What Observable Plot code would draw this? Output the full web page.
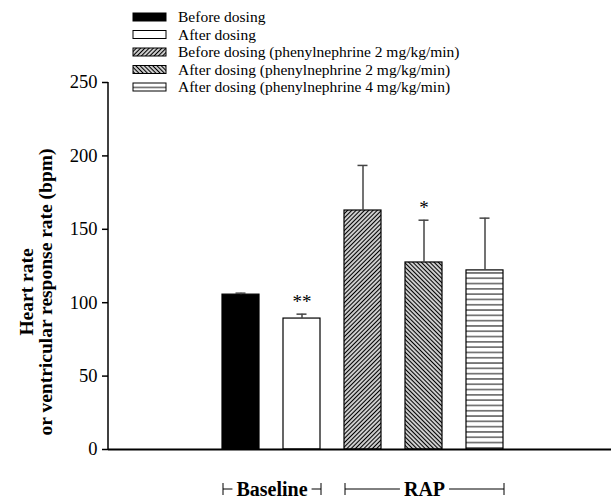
<!DOCTYPE html>
<html><head><meta charset="utf-8">
<script src="https://cdn.jsdelivr.net/npm/d3@7"></script>
<script src="https://cdn.jsdelivr.net/npm/@observablehq/plot@0.6"></script>
<style>body{margin:0;background:#fff}</style>
</head><body><div id="chart"></div>
<script>
const categories = [
  "Before dosing",
  "After dosing",
  "Before dosing (phenylnephrine 2 mg/kg/min)",
  "After dosing (phenylnephrine 2 mg/kg/min)",
  "After dosing (phenylnephrine 4 mg/kg/min)"
];
const groups = ["Baseline", "Baseline", "RAP", "RAP", "RAP"];
const means = [105.5, 89.2, 162.8, 127.4, 122];
const errors = [1, 3, 30.7, 28.8, 35.6];
const stars = ["", "**", "", "*", ""];
const fills = ["#000", "#fff", "url(#hatchUp)", "url(#hatchDown)", "url(#hatchHoriz)"];
const yTicks = [0, 50, 100, 150, 200, 250];
const yTitle = ["Heart rate", "or ventricular response rate (bpm)"];

const data = categories.map((c, i) => ({cat: c, group: groups[i], mean: means[i], err: errors[i], star: stars[i], fill: fills[i]}));

const FONT = "'Liberation Serif', 'Times New Roman', serif";

const plot = Plot.plot({
  width: 611, height: 499,
  marginTop: 82, marginBottom: 50, marginLeft: 108, marginRight: 0,
  style: {fontFamily: FONT, fontSize: "18.5px", color: "#000", background: "#fff", overflow: "visible"},
  x: {type: "band", domain: categories, range: [210, 515], paddingInner: 0.39, paddingOuter: 0.195, axis: null},
  y: {domain: [0, 250], axis: null},
  color: {type: "identity"},
  marks: [
    Plot.axisY({ticks: yTicks, tickSize: 6, tickPadding: 5, strokeWidth: 1.5, label: null, fontSize: 18.5}),
    Plot.barY(data, {x: "cat", y: "mean", fill: "fill", stroke: "#000", strokeWidth: 1.2}),
    Plot.ruleX(data, {x: "cat", y1: "mean", y2: d => d.mean + d.err, stroke: "#444", strokeWidth: 1.5}),
    Plot.tickY(data, {x: "cat", y: d => d.mean + d.err, stroke: "#444", strokeWidth: 1.5, insetLeft: 13.5, insetRight: 13.5}),
    Plot.text(data, {x: "cat", y: d => d.mean + d.err, text: "star", dy: -12, fontSize: 19}),
    Plot.ruleY([0], {strokeWidth: 2})
  ]
});

document.getElementById("chart").appendChild(plot);

const svg = d3.select(plot);
const xs = plot.scale("x"), ys = plot.scale("y");
const bw = xs.bandwidth;

// patterns
const defs = svg.insert("defs", ":first-child");
function hatch(id, angle, period, sw, color) {
  const p = defs.append("pattern").attr("id", id).attr("patternUnits", "userSpaceOnUse")
    .attr("width", period).attr("height", period).attr("patternTransform", `rotate(${angle})`);
  p.append("rect").attr("width", period).attr("height", period).attr("fill", "#fff");
  p.append("line").attr("x1", 0).attr("x2", period).attr("y1", period / 2).attr("y2", period / 2)
    .attr("stroke", color).attr("stroke-width", sw);
}
hatch("hatchUp", -45, 3, 1.4, "#000");
hatch("hatchDown", 45, 3, 1.4, "#000");
hatch("hatchHoriz", 0, 5.3, 1.2, "#333");

// y axis line
svg.append("line").attr("x1", 108).attr("x2", 108).attr("y1", ys.apply(0)).attr("y2", ys.apply(250))
  .attr("stroke", "#000").attr("stroke-width", 1.5);

// y title
const titleG = svg.append("g").attr("font-family", FONT).attr("font-weight", "bold").attr("font-size", 19.5)
  .attr("text-anchor", "middle");
[33, 52].forEach((bx, i) => {
  titleG.append("text").attr("transform", `translate(${bx},292) rotate(-90)`).text(yTitle[i]);
});

// legend
const leg = svg.append("g").attr("font-family", FONT).attr("font-size", 15.5).attr("text-anchor", "start");
data.forEach((d, i) => {
  const cy = 17 + i * 17.5;
  leg.append("rect").attr("x", 133).attr("y", cy - 4).attr("width", 33).attr("height", 8)
    .attr("fill", d.fill).attr("stroke", "#000").attr("stroke-width", 1);
  leg.append("text").attr("x", 178).attr("y", cy + 5).attr("text-anchor", "start").text(d.cat);
});

// group brackets
const gb = svg.append("g").attr("font-family", FONT).attr("font-weight", "bold").attr("font-size", 20);
const groupNames = Array.from(new Set(groups));
groupNames.forEach(g => {
  const cats = data.filter(d => d.group === g).map(d => d.cat);
  const x0 = d3.min(cats, c => xs.apply(c)) + 1;
  const x1 = d3.max(cats, c => xs.apply(c)) + bw + 1;
  const cx = (x0 + x1) / 2;
  const t = gb.append("text").attr("x", cx).attr("y", 496).attr("text-anchor", "middle").text(g);
  const w = t.node().getComputedTextLength();
  const ly = 489;
  gb.append("line").attr("x1", x0).attr("x2", cx - w / 2 - 4).attr("y1", ly).attr("y2", ly).attr("stroke", "#000");
  gb.append("line").attr("x1", cx + w / 2 + 4).attr("x2", x1).attr("y1", ly).attr("y2", ly).attr("stroke", "#000");
  [x0, x1].forEach(xx => gb.append("line").attr("x1", xx).attr("x2", xx).attr("y1", ly - 6).attr("y2", ly + 6).attr("stroke", "#000"));
});
</script>
</body></html>
